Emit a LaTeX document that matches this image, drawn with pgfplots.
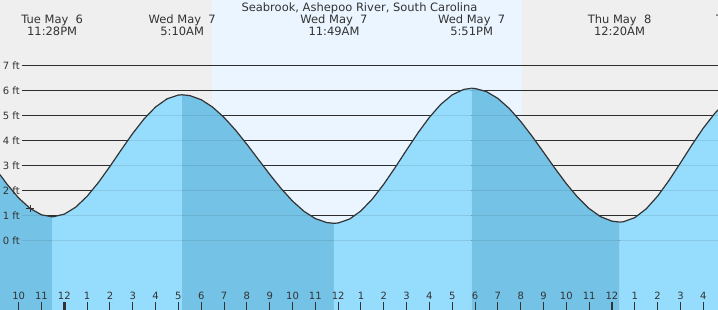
\documentclass[border=0pt]{standalone}
\usepackage{pgfplots}
\usepackage{pgfplotstable}
\pgfplotsset{compat=1.18}
\usepackage{fontspec}
\setmainfont{DejaVu Sans}
\definecolor{bggray}{HTML}{EFEFEF}
\definecolor{daycol}{HTML}{EBF5FF}
\definecolor{wlight}{HTML}{96DCFC}
\definecolor{wdark}{HTML}{74C2E6}
\definecolor{ink}{HTML}{333333}
% falling tide (dark) segments A, C, E; rising (light) B, D, F
\pgfplotstableread{
t h
-2.818 2.625
-2.5 2.233
-2.0 1.691
-1.5 1.277
-1.0 1.020
-0.533 0.940
}\segA
\pgfplotstableread{
t h
-0.533 0.940
-0.5 0.940
0.0 1.045
0.5 1.325
1.0 1.761
1.5 2.318
2.0 2.956
2.5 3.626
3.0 4.277
3.5 4.861
4.0 5.333
4.5 5.657
5.0 5.810
5.167 5.820
}\segB
\pgfplotstableread{
t h
5.167 5.820
5.5 5.788
6.0 5.624
6.5 5.327
7.0 4.914
7.5 4.411
8.0 3.842
8.5 3.240
9.0 2.639
9.5 2.072
10.0 1.570
10.5 1.161
11.0 0.869
11.5 0.709
11.817 0.680
}\segC
\pgfplotstableread{
t h
11.817 0.680
12.0 0.692
12.5 0.849
13.0 1.177
13.5 1.653
14.0 2.245
14.5 2.913
15.0 3.614
15.5 4.299
16.0 4.921
16.5 5.440
17.0 5.820
17.5 6.035
17.85 6.080
}\segD
\pgfplotstableread{
t h
17.85 6.080
18.0 6.073
18.5 5.948
19.0 5.675
19.5 5.270
20.0 4.755
20.5 4.161
21.0 3.524
21.5 2.879
22.0 2.265
22.5 1.718
23.0 1.269
23.5 0.945
24.0 0.765
24.333 0.730
}\segE
\pgfplotstableread{
t h
24.333 0.730
24.5 0.741
25.0 0.906
25.5 1.258
26.0 1.767
26.5 2.396
27.0 3.095
27.5 3.810
28.0 4.486
28.5 5.071
28.646 5.218
}\segF
\begin{document}
\begin{tikzpicture}
\begin{axis}[at={(0,0)},anchor=south west,scale only axis,
  width=718pt,height=310pt,
  xmin=-2.818,xmax=28.646,ymin=-2.788,ymax=9.612,
  axis lines=none,clip=false]
\fill[bggray] (axis cs:-2.818,-2.788) rectangle (axis cs:28.646,9.612);
\fill[daycol] (axis cs:6.47,-2.788) rectangle (axis cs:20.06,9.612);
\pgfplotsinvokeforeach{0,...,7}{\draw[ink,line width=0.9pt] (axis cs:-1.854,#1) -- (axis cs:28.646,#1);}
\addplot[draw=none,fill=wdark] table[x=t,y=h] {\segA} -- (axis cs:-0.533,-2.788) -- (axis cs:-2.818,-2.788) -- cycle;
\addplot[draw=none,fill=wlight] table[x=t,y=h] {\segB} -- (axis cs:5.167,-2.788) -- (axis cs:-0.533,-2.788) -- cycle;
\addplot[draw=none,fill=wdark] table[x=t,y=h] {\segC} -- (axis cs:11.817,-2.788) -- (axis cs:5.167,-2.788) -- cycle;
\addplot[draw=none,fill=wlight] table[x=t,y=h] {\segD} -- (axis cs:17.85,-2.788) -- (axis cs:11.817,-2.788) -- cycle;
\addplot[draw=none,fill=wdark] table[x=t,y=h] {\segE} -- (axis cs:24.333,-2.788) -- (axis cs:17.85,-2.788) -- cycle;
\addplot[draw=none,fill=wlight] table[x=t,y=h] {\segF} -- (axis cs:28.646,-2.788) -- (axis cs:24.333,-2.788) -- cycle;
\pgfplotsinvokeforeach{0,...,7}{\draw[black,opacity=0.09,line width=0.9pt] (axis cs:-1.854,#1) -- (axis cs:28.646,#1);}
\addplot[ink,line width=1.2pt,line join=round] table[x=t,y=h] {\segA};
\addplot[ink,line width=1.2pt,line join=round] table[x=t,y=h] {\segB};
\addplot[ink,line width=1.2pt,line join=round] table[x=t,y=h] {\segC};
\addplot[ink,line width=1.2pt,line join=round] table[x=t,y=h] {\segD};
\addplot[ink,line width=1.2pt,line join=round] table[x=t,y=h] {\segE};
\addplot[ink,line width=1.2pt,line join=round] table[x=t,y=h] {\segF};
\addplot[only marks,mark=+,mark size=3.6pt,ink,line width=0.8pt] coordinates {(-1.5,1.277)};
% y labels
\pgfplotsinvokeforeach{0,...,7}{\node[anchor=west,inner sep=0pt,text=ink,font=\fontsize{10}{12}\selectfont] at (axis cs:-2.70,#1) {#1 ft};}
% hour ticks
\pgfplotsinvokeforeach{-2,...,28}{\draw[ink,line width=1pt] (axis cs:#1,-2.468) -- (axis cs:#1,-2.788);}
\draw[ink,line width=2.6pt] (axis cs:0,-2.468) -- (axis cs:0,-2.788);
\draw[ink,line width=2.6pt] (axis cs:24,-2.468) -- (axis cs:24,-2.788);
\begin{scope}[every node/.style={anchor=base,inner sep=0pt,text=ink,font=\fontsize{10}{12}\selectfont}]
\node at (axis cs:-2,-2.388) {10};
\node at (axis cs:-1,-2.388) {11};
\node at (axis cs:0,-2.388) {12};
\node at (axis cs:1,-2.388) {1};
\node at (axis cs:2,-2.388) {2};
\node at (axis cs:3,-2.388) {3};
\node at (axis cs:4,-2.388) {4};
\node at (axis cs:5,-2.388) {5};
\node at (axis cs:6,-2.388) {6};
\node at (axis cs:7,-2.388) {7};
\node at (axis cs:8,-2.388) {8};
\node at (axis cs:9,-2.388) {9};
\node at (axis cs:10,-2.388) {10};
\node at (axis cs:11,-2.388) {11};
\node at (axis cs:12,-2.388) {12};
\node at (axis cs:13,-2.388) {1};
\node at (axis cs:14,-2.388) {2};
\node at (axis cs:15,-2.388) {3};
\node at (axis cs:16,-2.388) {4};
\node at (axis cs:17,-2.388) {5};
\node at (axis cs:18,-2.388) {6};
\node at (axis cs:19,-2.388) {7};
\node at (axis cs:20,-2.388) {8};
\node at (axis cs:21,-2.388) {9};
\node at (axis cs:22,-2.388) {10};
\node at (axis cs:23,-2.388) {11};
\node at (axis cs:24,-2.388) {12};
\node at (axis cs:25,-2.388) {1};
\node at (axis cs:26,-2.388) {2};
\node at (axis cs:27,-2.388) {3};
\node at (axis cs:28,-2.388) {4};
\end{scope}
\begin{scope}[every node/.style={anchor=base,inner sep=0pt,text=ink,font=\fontsize{11.5}{13}\selectfont}]
\node at (axis cs:12.936,9.144) {Seabrook, Ashepoo River, South Carolina};
\node at (axis cs:-0.533,8.652) {Tue May\ \ 6};
\node at (axis cs:-0.533,8.172) {11:28PM};
\node at (axis cs:5.167,8.652) {Wed May\ \ 7};
\node at (axis cs:5.167,8.172) {5:10AM};
\node at (axis cs:11.817,8.652) {Wed May\ \ 7};
\node at (axis cs:11.817,8.172) {11:49AM};
\node at (axis cs:17.85,8.652) {Wed May\ \ 7};
\node at (axis cs:17.85,8.172) {5:51PM};
\node at (axis cs:24.333,8.652) {Thu May\ \ 8};
\node at (axis cs:24.333,8.172) {12:20AM};
\node at (axis cs:29.96,8.652) {Thu May\ \ 8};
\end{scope}
\end{axis}
\pgfresetboundingbox
\path (0,0) rectangle (718pt,310pt);
\end{tikzpicture}
\end{document}
